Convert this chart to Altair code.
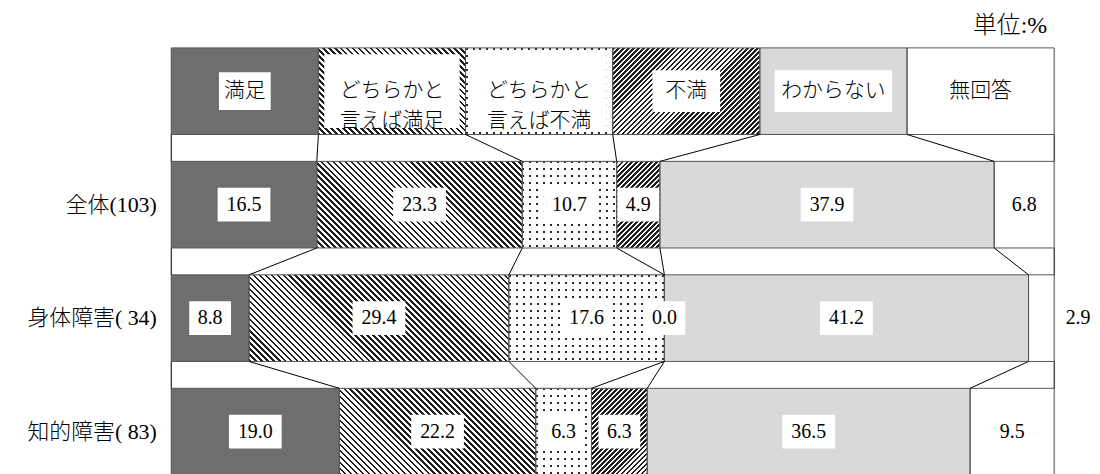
import json
import altair as alt
import pandas as pd

# ---------------- data ----------------
categories = ["満足", "どちらかと言えば満足", "どちらかと言えば不満", "不満", "わからない", "無回答"]
header_labels = ["満足", "どちらかと\n言えば満足", "どちらかと\n言えば不満", "不満", "わからない", "無回答"]
groups = ["全体(103)", "身体障害( 34)", "知的障害( 83)"]
values_total = [16.5, 23.3, 10.7, 4.9, 37.9, 6.8]
values_physical = [8.8, 29.4, 17.6, 0.0, 41.2, 2.9]
values_intellectual = [19.0, 22.2, 6.3, 6.3, 36.5, 9.5]
unit_label = "単位:%"

# ---------------- layout / style ----------------
HEADER = "__header__"
W, H = 887, 429
BAND = 87
FONT = "Liberation Serif, Noto Sans CJK JP"
FW = 300
row_order = [HEADER] + groups
base_colors = ["#6e6e6e", "#ffffff", "#ffffff", "#ffffff", "#d9d9d9", "#ffffff"]
header_box = {"満足": (52, 38), "どちらかと言えば満足": (136, 74),
              "どちらかと言えば不満": (136, 74), "不満": (68, 42), "わからない": (118, 42)}

# ---------------- tables ----------------
seg_rows = []
for g, vals in zip(groups, [values_total, values_physical, values_intellectual]):
    tot = sum(vals)
    cum = 0.0
    for i, (c, v) in enumerate(zip(categories, vals)):
        s = cum / tot * 100
        cum += v
        e = cum / tot * 100
        outside = (i == len(categories) - 1) and v < 4
        seg_rows.append(dict(row=g, cat=c, ci=i, start=s, end=e, mid=(s + e) / 2,
                             label=f"{v:.1f}", outside=outside))
for i, c in enumerate(categories):
    n = len(categories)
    seg_rows.append(dict(row=HEADER, cat=c, ci=i, start=i * 100 / n, end=(i + 1) * 100 / n,
                         mid=(i + 0.5) * 100 / n, label=header_labels[i], outside=False))
seg = pd.DataFrame(seg_rows)

bounds = {}
for r in row_order:
    sub = seg[seg.row == r].sort_values("ci")
    bounds[r] = [sub.start.iloc[0]] + sub.end.tolist()
con_rows = []
for a, b in zip(row_order[:-1], row_order[1:]):
    for xa, xb in zip(bounds[a], bounds[b]):
        con_rows.append(dict(r0=a, r1=b, x0=xa, x1=xb))
con = pd.DataFrame(con_rows)

# ---------------- helpers ----------------
xscale = alt.Scale(domain=[0, 100], nice=False, zero=False)
yscale = alt.Scale(domain=row_order, paddingInner=27 / 114, paddingOuter=0)
yaxis = alt.Axis(title=None, domain=False, ticks=False, grid=False, labelFontSize=22,
                 labelFont=FONT, labelFontWeight=FW, labelColor="black", labelPadding=15,
                 labelExpr=f"datum.value === '{HEADER}' ? '' : datum.value")


def X(f):
    return alt.X(f"{f}:Q", scale=xscale, axis=None)


def Y(f="row", **kw):
    return alt.Y(f"{f}:N", scale=yscale, axis=yaxis, **kw)


def band_stops(L, period, on, c_on, c_off):
    stops = []
    p = 0.0
    while p < L - 1e-9:
        a = p / L
        b = min(p + on, L) / L
        c = min(p + period, L) / L
        stops += [{"offset": round(a, 5), "color": c_on}, {"offset": round(b, 5), "color": c_on},
                  {"offset": round(b, 5), "color": c_off}, {"offset": round(c, 5), "color": c_off}]
        p += period
    return stops


def diag(w, h, period, on, direction, c_on="#1e1e1e", c_off="#ffffff"):
    L = w + h
    k = L / (w * w + h * h)
    if direction == "back":
        x1, y1, x2, y2 = 0.0, 1.0, k * w, 1.0 - k * h
    else:
        x1, y1, x2, y2 = 0.0, 0.0, k * w, k * h
    return {"gradient": "linear", "x1": x1, "y1": y1, "x2": x2, "y2": y2,
            "stops": band_stops(L, period, on, c_on, c_off)}


def rows_grad(h):
    return {"gradient": "linear", "x1": 0, "y1": 0, "x2": 0, "y2": 1,
            "stops": band_stops(h, 7, 2, "#2a2a2a", "#ffffff")}


def cols_grad(w):
    return {"gradient": "linear", "x1": 0, "y1": 0, "x2": 1, "y2": 0,
            "stops": band_stops(w, 7, 2, "rgba(255,255,255,0)", "#ffffff")}


def sel(r, i):
    return f"datum.row === {json.dumps(r, ensure_ascii=False)} && datum.ci === {i}"


# ---------------- layers ----------------
layers = []
layers.append(
    alt.Chart(seg).mark_bar(strokeWidth=0).encode(
        x=X("start"), x2="end:Q", y=Y(),
        color=alt.Color("cat:N", scale=alt.Scale(domain=categories, range=base_colors), legend=None))
)

for _, s in seg.iterrows():
    w = (s.end - s.start) / 100 * W
    if w <= 0.5 or s.ci not in (1, 2, 3):
        continue
    if s.ci == 1:
        fills = [diag(w, BAND, 6, 2.6, "back")]
    elif s.ci == 3:
        fills = [diag(w, BAND, 5, 2.7, "fwd")]
    else:
        fills = [rows_grad(BAND), cols_grad(w)]
    for f in fills:
        layers.append(
            alt.Chart(seg).transform_filter(sel(s.row, int(s.ci))).mark_bar(
                fill=f, strokeWidth=0).encode(x=X("start"), x2="end:Q", y=Y())
        )

layers.append(
    alt.Chart(seg).mark_bar(filled=False, stroke="#555555", strokeWidth=1).encode(
        x=X("start"), x2="end:Q", y=Y())
)

layers.append(
    alt.Chart(con).mark_rule(color="black", strokeWidth=1).encode(
        x=X("x0"), x2="x1:Q", y=Y("r0", bandPosition=1), y2=alt.Y2("r1:N", bandPosition=0))
)

# white label boxes for values
for nchar, bw in [(4, 53), (3, 42)]:
    layers.append(
        alt.Chart(seg).transform_filter(
            f"datum.row !== '{HEADER}' && !datum.outside && length(datum.label) === {nchar}"
        ).mark_rect(color="white", width=bw, height=34).encode(x=X("mid"), y=Y())
    )

# white label boxes for header
for i, c in enumerate(categories):
    if c in header_box:
        bw, bh = header_box[c]
        layers.append(
            alt.Chart(seg).transform_filter(sel(HEADER, i)).mark_rect(
                color="white", width=bw, height=bh).encode(x=X("mid"), y=Y())
        )

layers.append(
    alt.Chart(seg).transform_filter(f"datum.row !== '{HEADER}' && !datum.outside").mark_text(
        font=FONT, fontSize=20, fontWeight=FW, color="black").encode(x=X("mid"), y=Y(), text="label:N")
)
layers.append(
    alt.Chart(seg).transform_filter("datum.outside").mark_text(
        font=FONT, fontSize=20, fontWeight=FW, color="black", dx=24).encode(
        x=X("end"), y=Y(), text="label:N")
)
layers.append(
    alt.Chart(seg).transform_filter(f"datum.row === '{HEADER}'").mark_text(
        font=FONT, fontSize=21, fontWeight=FW, color="black", lineBreak="\n", lineHeight=30).encode(
        x=X("mid"), y=Y(), text="label:N")
)

chart = alt.layer(*layers).properties(
    width=W, height=H,
    autosize=alt.AutoSizeParams(type="none"),
    padding={"left": 164, "top": 39, "right": 38, "bottom": 0},
    title=alt.TitleParams(unit_label, anchor="end", frame="group", fontSize=24, font=FONT,
                          fontWeight=FW, color="black", offset=9, dx=-7),
).configure_view(stroke=None).configure(background="white")

chart.save("out.html", embed_options={"renderer": "svg", "actions": False})
